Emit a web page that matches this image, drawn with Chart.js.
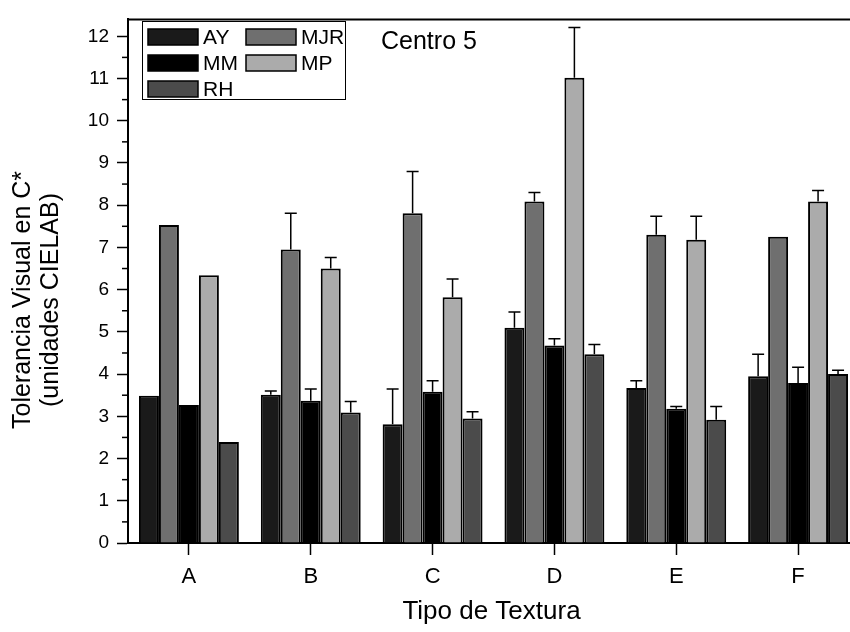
<!DOCTYPE html>
<html>
<head>
<meta charset="utf-8">
<script src="https://cdn.jsdelivr.net/npm/chart.js@4.4.1/dist/chart.umd.min.js"></script>
<style>
  html, body { margin: 0; padding: 0; background: #fff; overflow: hidden; }
  canvas { display: block; }
</style>
</head>
<body>
<canvas id="chart" width="860" height="632"></canvas>
<script>
// data (Centro 5)
const categories = ['A', 'B', 'C', 'D', 'E', 'F'];
const seriesNames = ['AY', 'MJR', 'MM', 'MP', 'RH'];

const ayValues  = [3.49, 3.51, 2.81, 5.10, 3.67, 3.95];
const mjrValues = [7.53, 6.95, 7.81, 8.09, 7.30, 7.25];
const mmValues  = [3.27, 3.37, 3.58, 4.68, 3.18, 3.79];
const mpValues  = [6.34, 6.50, 5.82, 11.02, 7.18, 8.09];
const rhValues  = [2.39, 3.09, 2.95, 4.47, 2.92, 4.00];

// upper error bars (only the + side is drawn)
const ayErrors  = [0, 0.09, 0.84, 0.37, 0.17, 0.52];
const mjrErrors = [0, 0.86, 0.99, 0.21, 0.44, 0];
const mmErrors  = [0, 0.28, 0.26, 0.16, 0.05, 0.37];
const mpErrors  = [0, 0.26, 0.43, 1.19, 0.56, 0.26];
const rhErrors  = [0, 0.26, 0.16, 0.23, 0.31, 0.09];

const yMin = 0;
const yMax = 12.4;
const yStep = 1;

const allValues = [ayValues, mjrValues, mmValues, mpValues, rhValues];
const allErrors = [ayErrors, mjrErrors, mmErrors, mpErrors, rhErrors];
const fills = ['#1a1a1a', '#6f6f6f', '#000000', '#ababab', '#4b4b4b'];

const FONT = '"Liberation Sans", Arial, sans-serif';

const datasets = seriesNames.map((name, i) => ({
  label: name,
  data: allValues[i],
  errors: allErrors[i],
  backgroundColor: fills[i],
  borderColor: '#000',
  borderWidth: 2,
  categoryPercentage: 0.82,
  barPercentage: 1.0
}));

const extras = {
  id: 'extras',
  afterDatasetsDraw(chart) {
    const ctx = chart.ctx;
    const yScale = chart.scales.y;
    ctx.save();
    ctx.strokeStyle = '#000';
    ctx.lineWidth = 1.5;
    chart.data.datasets.forEach((ds, i) => {
      chart.getDatasetMeta(i).data.forEach((bar, j) => {
        const e = ds.errors[j];
        if (!e) return;
        const top = yScale.getPixelForValue(ds.data[j] + e);
        ctx.beginPath();
        ctx.moveTo(bar.x, bar.y);
        ctx.lineTo(bar.x, top);
        ctx.moveTo(bar.x - 6, top);
        ctx.lineTo(bar.x + 6, top);
        ctx.stroke();
      });
    });
    ctx.restore();
  },
  afterDraw(chart) {
    const ctx = chart.ctx;
    const area = chart.chartArea;
    const yScale = chart.scales.y;
    ctx.save();
    ctx.strokeStyle = '#000';

    // top frame line
    ctx.lineWidth = 2;
    ctx.beginPath();
    ctx.moveTo(area.left - 1, area.top);
    ctx.lineTo(area.right, area.top);
    ctx.stroke();

    // minor ticks on y
    ctx.lineWidth = 1.5;
    for (let v = yMin + yStep / 2; v < yMax; v += yStep) {
      const py = yScale.getPixelForValue(v);
      ctx.beginPath();
      ctx.moveTo(area.left - 6, py);
      ctx.lineTo(area.left, py);
      ctx.stroke();
    }

    // legend box
    ctx.lineWidth = 1;
    ctx.strokeRect(142.5, 21.5, 203, 78);
    const cols = [148, 246];
    const rows = [37, 63, 89];
    ctx.font = '21px ' + FONT;
    ctx.textBaseline = 'middle';
    ctx.textAlign = 'left';
    chart.data.datasets.forEach((ds, i) => {
      const cx = cols[i % 2];
      const cy = rows[Math.floor(i / 2)];
      ctx.fillStyle = ds.backgroundColor;
      ctx.fillRect(cx, cy - 8, 50, 16);
      ctx.lineWidth = 1.5;
      ctx.strokeRect(cx, cy - 8, 50, 16);
      ctx.fillStyle = '#000';
      ctx.fillText(ds.label, cx + 55, cy + 1);
    });

    // panel label
    ctx.font = '25px ' + FONT;
    ctx.textBaseline = 'alphabetic';
    ctx.fillText('Centro 5', 381, 49);

    // axis titles
    ctx.textAlign = 'center';
    ctx.textBaseline = 'middle';
    ctx.font = '26px ' + FONT;
    ctx.fillText('Tipo de Textura', (area.left + area.right) / 2 - 2, 612);
    ctx.font = '25px ' + FONT;
    ctx.save();
    ctx.translate(0, 300);
    ctx.rotate(-Math.PI / 2);
    ctx.fillText('Tolerancia Visual en C*', 0, 23);
    ctx.fillText('(unidades CIELAB)', 0, 51);
    ctx.restore();

    ctx.restore();
  }
};

new Chart(document.getElementById('chart'), {
  type: 'bar',
  data: { labels: categories, datasets: datasets },
  options: {
    responsive: false,
    animation: false,
    devicePixelRatio: 1,
    layout: { padding: { top: 13, right: 1, left: 0, bottom: 0 } },
    plugins: {
      legend: { display: false },
      tooltip: { enabled: false }
    },
    scales: {
      x: {
        offset: true,
        grid: { offset: false, drawOnChartArea: false, tickLength: 12, tickWidth: 1.5, tickColor: '#000' },
        border: { color: '#000', width: 2 },
        ticks: { color: '#000', padding: 9, font: { family: FONT, size: 22 } },
        afterFit(s) { s.height = 89; }
      },
      y: {
        min: yMin,
        max: yMax,
        grid: { drawOnChartArea: false, tickLength: 11, tickWidth: 1.5, tickColor: '#000' },
        border: { color: '#000', width: 2 },
        ticks: { stepSize: yStep, includeBounds: false, color: '#000', padding: 8, font: { family: FONT, size: 19 } },
        afterFit(s) { s.width = 128; }
      }
    }
  },
  plugins: [extras]
});
</script>
</body>
</html>
